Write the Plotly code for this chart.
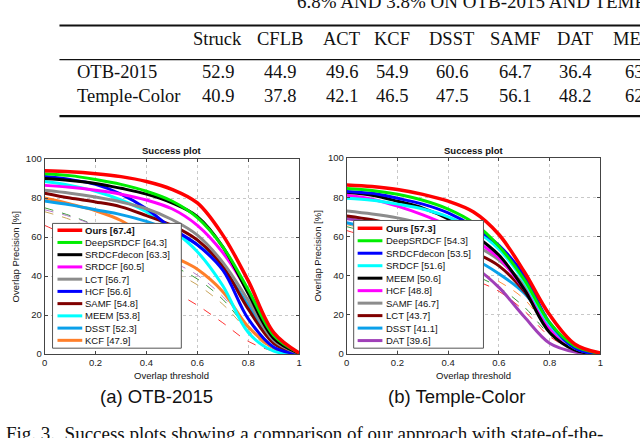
import plotly.graph_objects as go

W, H = 640, 438

# ---------------- data ----------------
thresholds = [0.0, 0.1, 0.2, 0.3, 0.4, 0.5, 0.6, 0.7, 0.8, 0.9, 1.0]

# OTB-2015 (left)
otb_names = ["Ours", "DeepSRDCF", "SRDCFdecon", "SRDCF", "LCT", "HCF", "SAMF", "MEEM", "DSST", "KCF"]
otb_auc = [67.4, 64.3, 63.3, 60.5, 56.7, 56.6, 54.8, 53.8, 52.3, 47.9]
otb_ours = [94, 93.5, 92.5, 91, 88.5, 84.5, 77.5, 61, 37.5, 11, 0.5]
otb_deepsrdcf = [92.5, 91.5, 89.5, 87, 83.5, 78.5, 70, 55, 33, 9.5, 0.5]
otb_srdcfdecon = [90, 89, 87.5, 85, 82, 77.5, 70.5, 55, 31, 8, 0.3]
otb_srdcf = [86.5, 85.5, 84, 82, 79, 74.5, 66, 52, 32, 9, 0.3]
otb_lct = [84, 82.5, 80.5, 78, 74.5, 69, 61, 47, 27.5, 7, 0.2]
otb_hcf = [91, 89.5, 87, 82, 74.5, 64.5, 56, 43, 18, 3.5, 0]
otb_samf = [82.5, 80, 78, 75.5, 71, 66, 58.5, 45, 23, 5.5, 0]
otb_meem = [88.5, 86.5, 83.5, 79, 73, 64, 52.5, 35, 11, 1.5, 0]
otb_dsst = [78.5, 76.5, 74, 71.5, 68, 63, 56, 44, 25, 5.5, 0]
otb_kcf = [80, 77, 73.5, 68.5, 60, 50.5, 43.5, 32, 14, 3, 0]
otb_extra_a = [75, 71, 66, 60, 53, 45.5, 38.5, 28, 13, 3, 0]
otb_extra_b = [74, 70.5, 66, 61, 54.5, 47.5, 40.5, 29.5, 14.5, 3, 0]
otb_extra_c = [73, 69, 63.5, 57.5, 50, 42.5, 35.5, 25.5, 12, 2.5, 0]
otb_extra_d = [66, 60, 53.5, 46.5, 39.5, 32.5, 25, 16, 6.5, 1.5, 0]

# Temple-Color (right)
tc_names = ["Ours", "DeepSRDCF", "SRDCFdecon", "SRDCF", "MEEM", "HCF", "SAMF", "LCT", "DSST", "DAT"]
tc_auc = [57.3, 54.3, 53.5, 51.6, 50.6, 48.8, 46.7, 43.7, 41.1, 39.6]
tc_ours = [86.3, 85.5, 84, 81.5, 78, 72.5, 61, 42, 20, 5, 0.5]
tc_deepsrdcf = [84.5, 83.5, 81.5, 78.5, 74, 67, 55, 38, 16, 4, 0.3]
tc_srdcfdecon = [83, 82, 79.5, 76.5, 72, 65, 55.5, 40, 16, 3, 0]
tc_srdcf = [79.5, 78.5, 76.5, 74, 70, 63.5, 53.5, 37, 15, 3, 0]
tc_meem = [82.5, 81, 78, 74.5, 69, 61, 50.5, 33, 11, 2, 0]
tc_hcf = [81, 79, 75.5, 71, 65.5, 58.5, 49, 33, 13, 2, 0]
tc_samf = [73, 71.5, 69.5, 66.5, 62, 56, 48, 35, 15, 3, 0]
tc_lct = [70.5, 68.5, 65.5, 62, 57.5, 52, 45, 32, 14, 3, 0]
tc_dsst = [67, 64, 61, 57.5, 53, 48.5, 41, 31, 15, 3, 0]
tc_dat = [69, 67, 64, 59.5, 53.5, 45, 34, 19, 5.5, 1, 0]
tc_extra_a = [66, 63, 59, 54.5, 49, 43, 37, 28, 12.5, 3, 0]
tc_extra_b = [65, 61.5, 57, 52, 46.5, 40.5, 34, 24, 10, 2, 0]
tc_extra_c = [63, 59, 54, 49, 43.5, 38, 32, 22, 9, 2, 0]

# table
table_cols = ["Struck", "CFLB", "ACT", "KCF", "DSST", "SAMF", "DAT", "MEEM"]
table_rows = ["OTB-2015", "Temple-Color"]
table_otb = [52.9, 44.9, 49.6, 54.9, 60.6, 64.7, 36.4, 63.4]
table_tc = [40.9, 37.8, 42.1, 46.5, 47.5, 56.1, 48.2, 62.2]

x_ticks = [0, 0.2, 0.4, 0.6, 0.8, 1]
x_ticktext = ["0", "0.2", "0.4", "0.6", "0.8", "1"]
y_ticks = [0, 20, 40, 60, 80, 100]

# ---------------- styles ----------------
otb_series = [otb_ours, otb_deepsrdcf, otb_srdcfdecon, otb_srdcf, otb_lct,
              otb_hcf, otb_samf, otb_meem, otb_dsst, otb_kcf]
otb_colors = ["#ff0000", "#00ee00", "#000000", "#ff00ff", "#8c8c8c",
              "#0000ff", "#800000", "#00ffff", "#0aa0ea", "#ff7f2a"]
otb_extras = [otb_extra_a, otb_extra_b, otb_extra_c, otb_extra_d]
otb_extra_colors = ["#3a9a3a", "#b57ac8", "#c8a45a", "#ff3030"]

tc_series = [tc_ours, tc_deepsrdcf, tc_srdcfdecon, tc_srdcf, tc_meem,
             tc_hcf, tc_samf, tc_lct, tc_dsst, tc_dat]
tc_colors = ["#ff0000", "#00ee00", "#0000ff", "#00ffff", "#000000",
             "#ff00ff", "#8c8c8c", "#800000", "#0aa0ea", "#a040b8"]
tc_extras = [tc_extra_a, tc_extra_b, tc_extra_c]
tc_extra_colors = ["#ff9040", "#3a9a3a", "#ff3030"]

SANS = "Liberation Sans, Arial, sans-serif"
SERIF = "Liberation Serif, Times New Roman, serif"


def X(px):
    return px / W


def Y(py):
    return 1 - py / H


fig = go.Figure()


def add_curves(series, colors, extras, extra_colors, xa, ya):
    for vals, col in zip(extras, extra_colors):
        fig.add_trace(go.Scatter(x=thresholds, y=vals, mode="lines", xaxis=xa, yaxis=ya,
                                 line=dict(color=col, width=1, dash="dash", shape="spline"),
                                 showlegend=False, hoverinfo="skip"))
    for i in reversed(range(len(series))):
        fig.add_trace(go.Scatter(x=thresholds, y=series[i], mode="lines", xaxis=xa, yaxis=ya,
                                 line=dict(color=colors[i], width=3.5 if i == 0 else 3, shape="spline"),
                                 showlegend=False, hoverinfo="skip"))


add_curves(otb_series, otb_colors, otb_extras, otb_extra_colors, "x", "y")
add_curves(tc_series, tc_colors, tc_extras, tc_extra_colors, "x2", "y2")

axis_common = dict(showline=True, mirror="ticks", linecolor="#444", linewidth=1,
                   ticks="inside", ticklen=3, tickcolor="#444",
                   showgrid=True, gridcolor="#c8c8c8", griddash="dot", gridwidth=1,
                   zeroline=False, tickfont=dict(family=SANS, size=9.5, color="#222"))

fig.update_layout(
    width=W, height=H, autosize=False,
    margin=dict(l=0, r=0, t=0, b=0),
    paper_bgcolor="white", plot_bgcolor="white",
    xaxis=dict(domain=[X(42), X(299)], range=[0, 1], tickvals=x_ticks, ticktext=x_ticktext,
               anchor="y", **axis_common),
    yaxis=dict(domain=[Y(357), Y(157)], range=[0, 100], tickvals=y_ticks,
               anchor="x", **axis_common),
    xaxis2=dict(domain=[X(347), X(603)], range=[0, 1], tickvals=x_ticks, ticktext=x_ticktext,
                anchor="y2", **axis_common),
    yaxis2=dict(domain=[Y(357), Y(156)], range=[0, 100], tickvals=y_ticks,
                anchor="x2", **axis_common),
)

shapes = []
annotations = []


def text(px, py, s, size, family=SANS, xanchor="center", angle=0, color="#111"):
    annotations.append(dict(x=X(px), y=Y(py), xref="paper", yref="paper", text=s,
                            showarrow=False, xanchor=xanchor, yanchor="middle",
                            textangle=angle, font=dict(family=family, size=size, color=color)))


def legend(names, aucs, colors, box, y0, step, lx0, lx1, tx):
    shapes.append(dict(type="rect", xref="paper", yref="paper",
                       x0=X(box[0]), x1=X(box[1]), y0=Y(box[3]), y1=Y(box[2]),
                       line=dict(color="#555", width=1), fillcolor="white", layer="above"))
    for i, (n, a, c) in enumerate(zip(names, aucs, colors)):
        yy = y0 + i * step
        shapes.append(dict(type="line", xref="paper", yref="paper",
                           x0=X(lx0), x1=X(lx1), y0=Y(yy), y1=Y(yy),
                           line=dict(color=c, width=3.5 if i == 0 else 3), layer="above"))
        label = f"{n} [{a}]"
        if i == 0:
            label = f"<b>{label}</b>"
        text(tx, yy, label, 9.5, xanchor="left")


legend(otb_names, otb_auc, otb_colors, (50, 180, 223, 351), 230, 12.55, 55, 80, 81)
legend(tc_names, tc_auc, tc_colors, (354, 485, 220, 351), 228, 12.8, 358, 383, 385)

# plot titles / axis titles / subcaptions
for cx, ylx in ((170, 13), (475, 318)):
    text(cx, 148, "<b>Success plot</b>", 9.5)
    text(cx, 379, "Overlap threshold", 9.5)
    text(ylx, 257, "Overlap Precision [%]", 9.5, angle=-90)
text(155, 401, "(a) OTB-2015", 18.5)
text(458, 401, "(b) Temple-Color", 18.5)

# table
col_x = [217, 280, 342, 393, 453, 517, 577, 644]
for cx, name in zip(col_x, table_cols):
    text(cx, 33.5, name, 18.5, family=SERIF)
for cx, v in zip(col_x, table_otb):
    text(cx, 68, f"{v}", 18.5, family=SERIF)
for cx, v in zip(col_x, table_tc):
    text(cx, 92, f"{v}", 18.5, family=SERIF)
text(73, 68, table_rows[0], 18.5, family=SERIF, xanchor="left")
text(73, 92, table_rows[1], 18.5, family=SERIF, xanchor="left")
for yy, wdt in ((20, 2.2), (55, 1.4), (113, 2.2)):
    shapes.append(dict(type="line", xref="paper", yref="paper", x0=X(57), x1=X(660),
                       y0=Y(yy), y1=Y(yy), line=dict(color="#111", width=wdt)))

text(295, -5, "6.8% AND 3.8% ON OTB-2015 AND TEMPLE-COLOR", 19, family=SERIF, xanchor="left")
text(1, 438, "Fig. 3.&nbsp;&nbsp;Success plots showing a comparison of our approach with state-of-the-",
     19, family=SERIF, xanchor="left")

fig.update_layout(shapes=shapes, annotations=annotations)
fig.write_html("out.html", config={"displayModeBar": False},
               post_script="document.body.style.margin='0';document.body.style.overflow='hidden';")
